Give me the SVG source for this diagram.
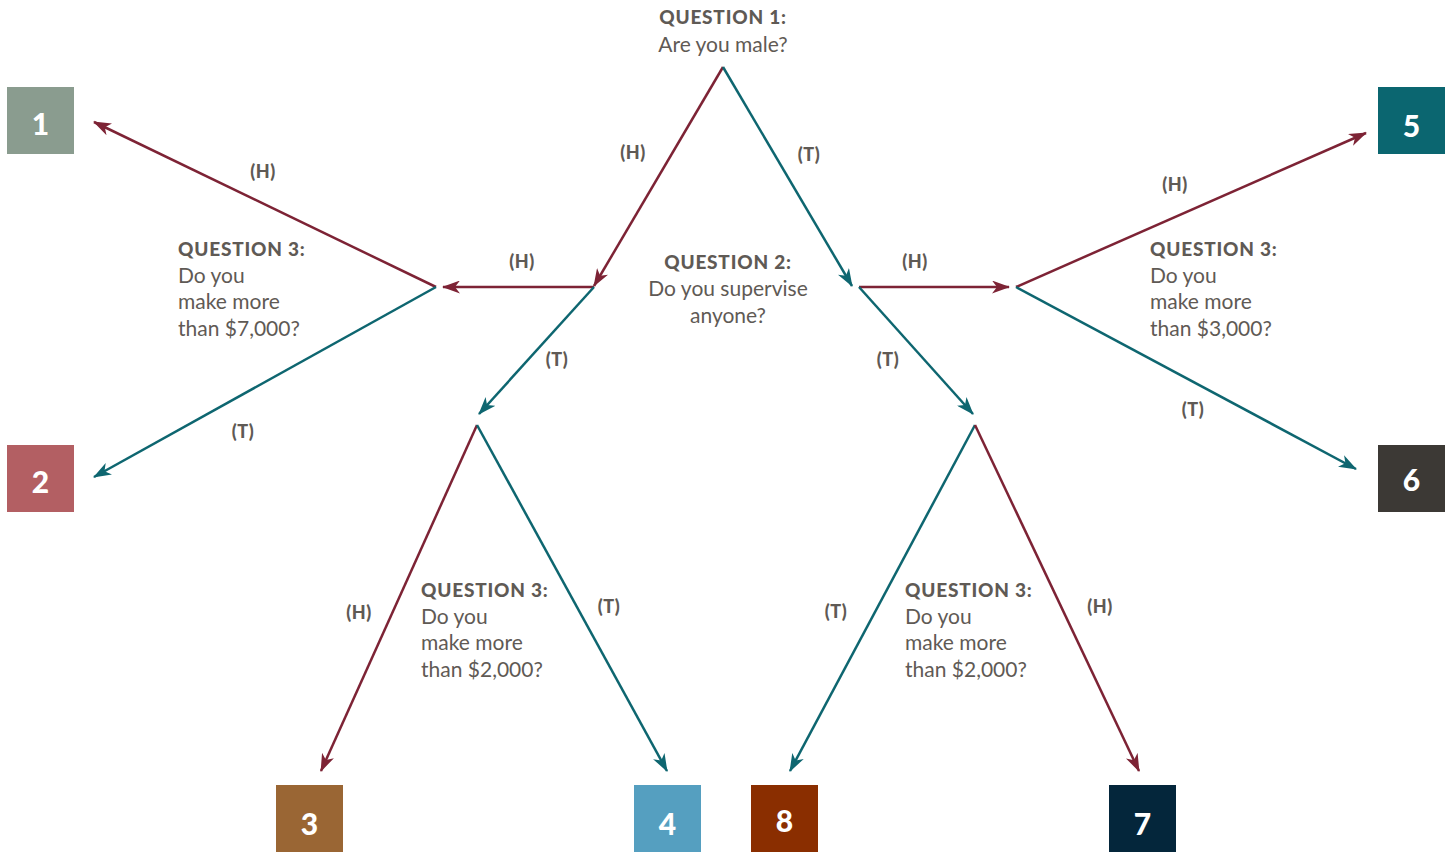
<svg xmlns="http://www.w3.org/2000/svg" width="1448" height="852" viewBox="0 0 1448 852">
<style>
.q{font-family:Lato,"Open Sans",sans-serif;fill:#5f5a55;font-size:21px}
.qb{font-weight:900;font-size:19px;letter-spacing:0.8px}
.lbl{font-family:Lato,"Open Sans",sans-serif;fill:#5f5a55;font-size:18px;font-weight:900;text-anchor:middle;letter-spacing:0.5px}
.num{font-family:Lato,"Open Sans",sans-serif;fill:#ffffff;font-size:30px;font-weight:900;text-anchor:middle}
.r{stroke:#7d2335;stroke-width:2.5;fill:none;marker-end:url(#ar)}
.t{stroke:#0e6670;stroke-width:2.5;fill:none;marker-end:url(#at)}
</style>
<defs>
<marker id="ar" viewBox="0 0 18 13" refX="17" refY="6.5" markerWidth="18" markerHeight="13" markerUnits="userSpaceOnUse" orient="auto"><path d="M0,0 L18,6.5 L0,13 L5,6.5 z" fill="#7d2335"/></marker>
<marker id="at" viewBox="0 0 18 13" refX="17" refY="6.5" markerWidth="18" markerHeight="13" markerUnits="userSpaceOnUse" orient="auto"><path d="M0,0 L18,6.5 L0,13 L5,6.5 z" fill="#0e6670"/></marker>
</defs>
<rect width="1448" height="852" fill="#ffffff"/>
<g id="connectors">
<line class="r" x1="723" y1="67" x2="594" y2="286"/>
<line class="t" x1="723" y1="67" x2="852" y2="286"/>
<line class="r" x1="594" y1="287" x2="443" y2="287"/>
<line class="t" x1="594" y1="287" x2="479" y2="414"/>
<line class="r" x1="436" y1="287" x2="94" y2="122"/>
<line class="t" x1="436" y1="287" x2="94" y2="477"/>
<line class="r" x1="477" y1="425" x2="321" y2="771"/>
<line class="t" x1="477" y1="425" x2="667" y2="771"/>
<line class="r" x1="859" y1="287" x2="1009" y2="287"/>
<line class="t" x1="859" y1="287" x2="973" y2="414"/>
<line class="r" x1="1016" y1="287" x2="1366" y2="133"/>
<line class="t" x1="1016" y1="287" x2="1356" y2="469"/>
<line class="t" x1="975" y1="425" x2="790" y2="771"/>
<line class="r" x1="975" y1="425" x2="1139" y2="771"/>
<text class="lbl" x="263" y="178">(H)</text>
<text class="lbl" x="243" y="438">(T)</text>
<text class="lbl" x="633" y="159">(H)</text>
<text class="lbl" x="809" y="161">(T)</text>
<text class="lbl" x="522" y="268">(H)</text>
<text class="lbl" x="557" y="366">(T)</text>
<text class="lbl" x="915" y="268">(H)</text>
<text class="lbl" x="888" y="366">(T)</text>
<text class="lbl" x="1175" y="191">(H)</text>
<text class="lbl" x="1193" y="416">(T)</text>
<text class="lbl" x="359" y="619">(H)</text>
<text class="lbl" x="609" y="613">(T)</text>
<text class="lbl" x="836" y="618">(T)</text>
<text class="lbl" x="1100" y="613">(H)</text>
</g>
<g id="q1">
<text class="q qb" x="723" y="24" text-anchor="middle">QUESTION 1:</text>
<text class="q" x="723" y="52" text-anchor="middle">Are you male?</text>
</g>
<g id="q2">
<text class="q qb" x="728" y="269" text-anchor="middle">QUESTION 2:</text>
<text class="q" x="728" y="296" text-anchor="middle">Do you supervise</text>
<text class="q" x="728" y="323" text-anchor="middle">anyone?</text>
</g>
<g id="q3a">
<text class="q qb" x="178" y="256">QUESTION 3:</text>
<text class="q" x="178" y="283">Do you</text>
<text class="q" x="178" y="309">make more</text>
<text class="q" x="178" y="336">than $7,000?</text>
</g>
<g id="q3b">
<text class="q qb" x="1150" y="256">QUESTION 3:</text>
<text class="q" x="1150" y="283">Do you</text>
<text class="q" x="1150" y="309">make more</text>
<text class="q" x="1150" y="336">than $3,000?</text>
</g>
<g id="q3c">
<text class="q qb" x="421" y="597">QUESTION 3:</text>
<text class="q" x="421" y="624">Do you</text>
<text class="q" x="421" y="650">make more</text>
<text class="q" x="421" y="677">than $2,000?</text>
</g>
<g id="q3d">
<text class="q qb" x="905" y="597">QUESTION 3:</text>
<text class="q" x="905" y="624">Do you</text>
<text class="q" x="905" y="650">make more</text>
<text class="q" x="905" y="677">than $2,000?</text>
</g>
<g id="box1"><rect x="7" y="87" width="67" height="67" fill="#8a9c8f"/><text class="num" x="40.5" y="135">1</text></g>
<g id="box2"><rect x="7" y="445" width="67" height="67" fill="#b35f63"/><text class="num" x="40.5" y="493">2</text></g>
<g id="box5"><rect x="1378" y="87" width="67" height="67" fill="#0b6670"/><text class="num" x="1411.5" y="137">5</text></g>
<g id="box6"><rect x="1378" y="445" width="67" height="67" fill="#3c3935"/><text class="num" x="1411.5" y="491">6</text></g>
<g id="box3"><rect x="276" y="785" width="67" height="67" fill="#9a6634"/><text class="num" x="309.5" y="835">3</text></g>
<g id="box4"><rect x="634" y="785" width="67" height="67" fill="#559fc0"/><text class="num" x="667.5" y="835">4</text></g>
<g id="box8"><rect x="751" y="785" width="67" height="67" fill="#8a2e00"/><text class="num" x="784.5" y="832">8</text></g>
<g id="box7"><rect x="1109" y="785" width="67" height="67" fill="#04263b"/><text class="num" x="1142.5" y="835">7</text></g>
</svg>
